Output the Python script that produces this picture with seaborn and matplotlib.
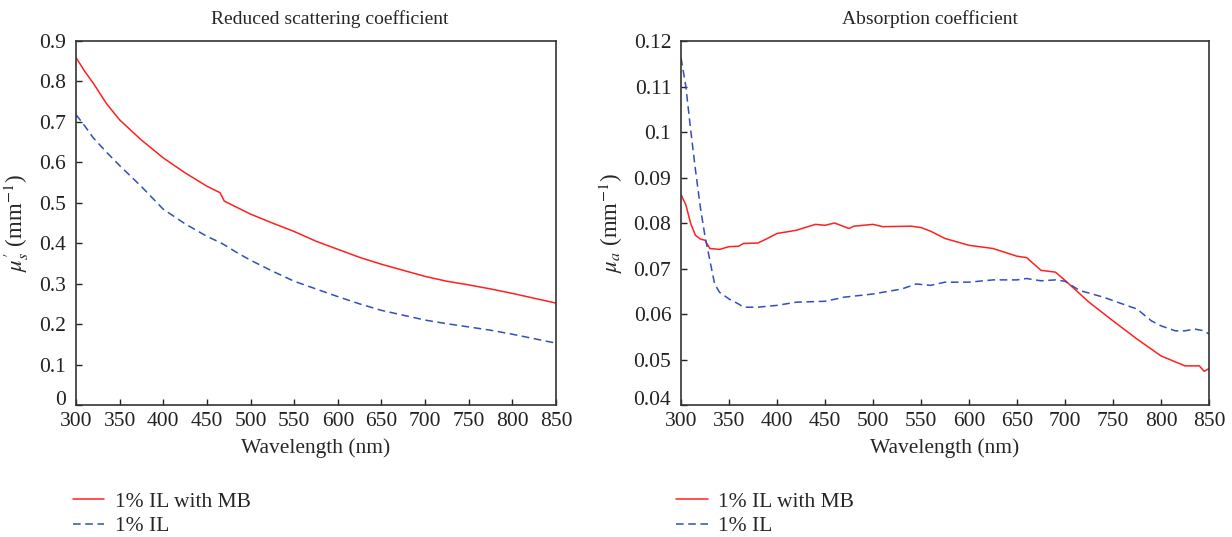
import matplotlib
matplotlib.use("Agg")
import matplotlib.pyplot as plt
import matplotlib.transforms as mtransforms
import seaborn as sns
import pandas as pd

# ---- data ----
scat_wl = [300, 310, 320, 335, 350, 375, 400, 425, 450, 465, 470, 485, 500, 525, 550,
           575, 600, 625, 650, 675, 700, 725, 750, 775, 800, 825, 850]
scat_mb = [0.859, 0.825, 0.795, 0.745, 0.705, 0.655, 0.611, 0.574, 0.541, 0.525, 0.504, 0.488,
           0.472, 0.450, 0.429, 0.405, 0.385, 0.365, 0.348, 0.333, 0.318, 0.306, 0.297, 0.287,
           0.276, 0.264, 0.252]
scat_il = [0.718, 0.690, 0.660, 0.625, 0.592, 0.540, 0.484, 0.448, 0.417, 0.402, 0.396, 0.376,
           0.358, 0.331, 0.306, 0.287, 0.268, 0.250, 0.234, 0.222, 0.210, 0.201, 0.193, 0.185,
           0.175, 0.164, 0.153]

abs_wl_mb = [300, 305, 310, 315, 320, 325, 330, 340, 350, 360, 365, 380, 390, 400, 420, 440,
             450, 460, 475, 480, 500, 510, 540, 550, 560, 575, 600, 625, 650, 660, 675, 690,
             700, 725, 750, 775, 800, 825, 840, 845, 850]
abs_mb = [0.0862, 0.0840, 0.0799, 0.0773, 0.0765, 0.0762, 0.0744, 0.0742, 0.0748, 0.0749,
          0.0755, 0.0756, 0.0766, 0.0777, 0.0784, 0.0797, 0.0795, 0.0800, 0.0788, 0.0793,
          0.0797, 0.0792, 0.0793, 0.0790, 0.0782, 0.0766, 0.0751, 0.0744, 0.0727, 0.0724,
          0.0696, 0.0692, 0.0674, 0.0626, 0.0585, 0.0545, 0.0508, 0.0486, 0.0486, 0.0474,
          0.0480]
abs_wl_il = [300, 305, 310, 315, 320, 325, 330, 335, 340, 350, 360, 365, 380, 400, 420, 450,
             470, 500, 530, 545, 560, 575, 600, 625, 650, 660, 675, 690, 700, 715, 740, 760,
             775, 790, 800, 815, 825, 835, 845, 850]
abs_il = [0.1163, 0.1100, 0.1005, 0.0917, 0.0836, 0.0770, 0.0718, 0.0666, 0.0648, 0.0633,
          0.0622, 0.0615, 0.0615, 0.0619, 0.0626, 0.0628, 0.0637, 0.0644, 0.0655, 0.0666,
          0.0663, 0.0670, 0.0670, 0.0675, 0.0675, 0.0678, 0.0673, 0.0675, 0.0672, 0.0652,
          0.0637, 0.0622, 0.0611, 0.0585, 0.0574, 0.0563, 0.0563, 0.0567, 0.0563, 0.0556]

label_mb = "1% IL with MB"
label_il = "1% IL"
titles = ["Reduced scattering coefficient", "Absorption coefficient"]
xticks = list(range(300, 851, 50))
yticks_s = [0, 0.1, 0.2, 0.3, 0.4, 0.5, 0.6, 0.7, 0.8, 0.9]
yticks_a = [0.04, 0.05, 0.06, 0.07, 0.08, 0.09, 0.1, 0.11, 0.12]

# ---- style ----
sns.set_theme(style="white")
plt.rcParams["font.family"] = ["Liberation Serif", "DejaVu Serif"]
plt.rcParams["mathtext.fontset"] = "stix"
plt.rcParams["xtick.direction"] = "in"
plt.rcParams["ytick.direction"] = "in"

RED = "#ff2020"
BLUE = "#3050b8"
FS = 15.5
TFS = 14

fig = plt.figure(figsize=(12.32, 5.37), dpi=100)
ax1 = fig.add_axes([0.0617, 0.2458, 0.3896, 0.6778])
ax2 = fig.add_axes([0.5528, 0.2458, 0.4285, 0.6778])

df_s = pd.concat([
    pd.DataFrame({"wl": scat_wl, "v": scat_mb, "s": label_mb}),
    pd.DataFrame({"wl": scat_wl, "v": scat_il, "s": label_il}),
])
df_a = pd.concat([
    pd.DataFrame({"wl": abs_wl_mb, "v": abs_mb, "s": label_mb}),
    pd.DataFrame({"wl": abs_wl_il, "v": abs_il, "s": label_il}),
])

for ax, df, title, tx, yt, ylab in [
    (ax1, df_s, titles[0], 0.529, yticks_s, r"$\mu_s^{\prime}$ (mm$^{-1}$)"),
    (ax2, df_a, titles[1], 0.472, yticks_a, r"$\mu_a$ (mm$^{-1}$)"),
]:
    sns.lineplot(data=df, x="wl", y="v", hue="s", style="s",
                 palette={label_mb: RED, label_il: BLUE},
                 dashes={label_mb: "", label_il: (5, 3)},
                 linewidth=1.1, ax=ax, legend=False, sort=False)
    ax.set_xlim(300, 850)
    ax.set_ylim(yt[0], yt[-1])
    ax.set_xticks(xticks)
    ax.set_yticks(yt)
    ax.set_yticklabels([f"{t:g}" for t in yt])
    ax.tick_params(labelsize=FS, length=4, width=1, colors="#222222",
                   bottom=True, left=True)
    ax.tick_params(axis="x", pad=5)
    ax.tick_params(axis="y", pad=7)
    # lift the lowest y tick label a little so it clears the first x label
    lab0 = ax.get_yticklabels()[0]
    lab0.set_transform(lab0.get_transform() +
                       mtransforms.ScaledTranslation(0, 5 / 72, fig.dpi_scale_trans))
    for sp in ax.spines.values():
        sp.set_color("#333333")
        sp.set_linewidth(1.2)
    ax.set_title(title, fontsize=TFS, pad=12, x=tx)
    ax.set_xlabel("Wavelength (nm)", fontsize=FS, labelpad=5)
    ax.set_ylabel(ylab, fontsize=FS + 1, labelpad=6)
    h1, = ax.plot([], [], color=RED, lw=1.1, label=label_mb)
    h2, = ax.plot([], [], color=BLUE, lw=1.1, ls=(0, (5, 3)), label=label_il)
    ax.legend(handles=[h1, h2], loc="upper left", bbox_to_anchor=(-0.025, -0.215),
              frameon=False, fontsize=FS, handlelength=1.45, handletextpad=0.5,
              labelspacing=0.2, borderaxespad=0)

fig.savefig("out.png", dpi=100)
